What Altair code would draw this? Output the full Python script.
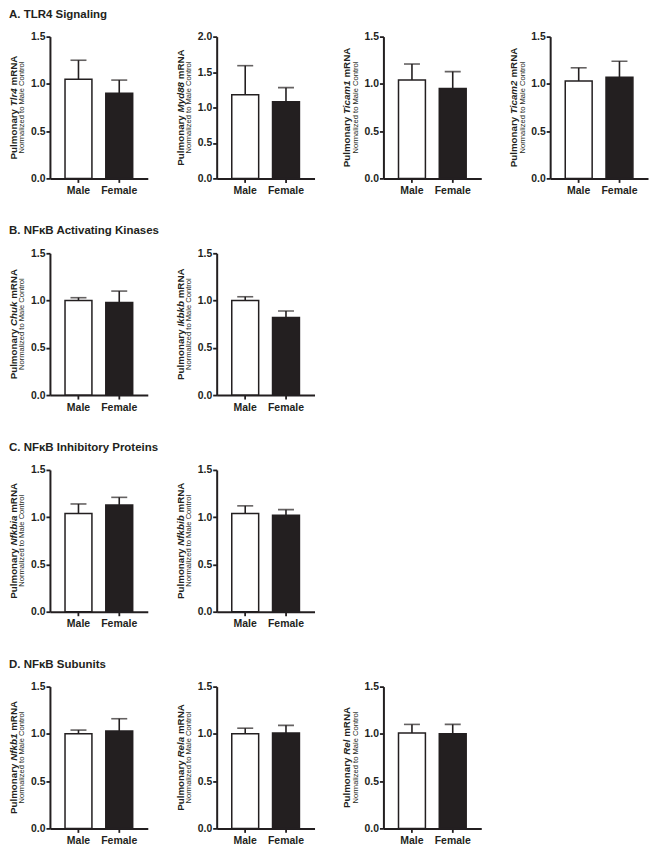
import altair as alt
import pandas as pd

# ---------------- data ----------------
row_titles = ["A. TLR4 Signaling", "B. NFκB Activating Kinases",
              "C. NFκB Inhibitory Proteins", "D. NFκB Subunits"]
row_genes = [["Tlr4", "Myd88", "Ticam1", "Ticam2"],
             ["Chuk", "Ikbkb"],
             ["Nfkbia", "Nfkbib"],
             ["Nfkb1", "Rela", "Rel"]]
genes = ["Tlr4", "Myd88", "Ticam1", "Ticam2", "Chuk", "Ikbkb",
         "Nfkbia", "Nfkbib", "Nfkb1", "Rela", "Rel"]
groups = ["Male", "Female"]
male_mean = [1.05, 1.18, 1.04, 1.03, 1.00, 1.00, 1.04, 1.04, 1.00, 1.00, 1.01]
male_sem = [0.20, 0.41, 0.17, 0.14, 0.03, 0.04, 0.10, 0.08, 0.04, 0.06, 0.09]
female_mean = [0.90, 1.08, 0.95, 1.07, 0.98, 0.82, 1.13, 1.02, 1.03, 1.01, 1.00]
female_sem = [0.14, 0.20, 0.18, 0.17, 0.12, 0.07, 0.08, 0.06, 0.13, 0.08, 0.10]
y_max = [1.5, 2.0, 1.5, 1.5, 1.5, 1.5, 1.5, 1.5, 1.5, 1.5, 1.5]
y_title_prefix = "Pulmonary"
y_title_suffix = "mRNA"
y_subtitle = "Normalized to Male Control"

# ---------------- style ----------------
FONT = "Liberation Sans"
INK = "#231f20"
W, H = 98, 142
TITLE_FS = 9.8
# Arial/Liberation Sans Bold advance widths (per 1000 em) for title layout
BOLD_W = {" ": 278, "A": 722, "C": 722, "I": 278, "M": 833, "N": 722, "P": 667,
          "R": 722, "T": 611, "a": 556, "b": 611, "c": 556, "d": 611, "e": 556,
          "f": 333, "h": 611, "i": 278, "k": 556, "l": 278, "m": 889, "n": 611,
          "o": 611, "r": 389, "u": 611, "y": 556, "1": 556, "2": 556, "4": 556,
          "8": 556}


def tw(s, size):
    return sum(BOLD_W.get(c, 556) for c in s) * size / 1000.0


one = pd.DataFrame({"k": [0]})


def txt(text, x, y, size, weight="bold", style="normal", angle=270, align="left"):
    return alt.Chart(one).mark_text(
        text=text, angle=angle, align=align, baseline="middle", font=FONT,
        fontSize=size, fontWeight=weight, fontStyle=style, color=INK
    ).encode(x=alt.value(x), y=alt.value(y))


def panel(i, row_title=None):
    g = genes[i]
    df = pd.DataFrame({
        "group": groups,
        "mean": [male_mean[i], female_mean[i]],
        "upper": [male_mean[i] + male_sem[i], female_mean[i] + female_sem[i]],
    })
    ymax = y_max[i]
    ticks = [k * 0.5 for k in range(int(round(ymax / 0.5)) + 1)]
    xenc = alt.X("group:N", sort=groups,
                 scale=alt.Scale(domain=groups, paddingInner=0.34, paddingOuter=0.37),
                 axis=alt.Axis(title=None, labelAngle=0, labelAlign="center",
                               labelBaseline="top", labelFontSize=10.5,
                               labelPadding=3))
    yscale = alt.Scale(domain=[0, ymax], nice=False, zero=True)
    yaxis = alt.Axis(title=None, values=ticks, format=".1f", grid=False,
                     labelFontSize=10.4, labelPadding=1)
    base = alt.Chart(df)
    err = base.mark_rule(color=INK, strokeWidth=1.6).encode(
        x=xenc, y=alt.Y("mean:Q", scale=yscale, axis=yaxis), y2="upper:Q")
    cap = base.mark_tick(color=INK, thickness=1.6, size=16).encode(
        x=xenc, y=alt.Y("upper:Q", scale=yscale, axis=yaxis))
    bars = base.mark_bar(stroke=INK, strokeWidth=1.5).encode(
        x=xenc,
        y=alt.Y("mean:Q", scale=yscale, axis=yaxis),
        fill=alt.Fill("group:N", scale=alt.Scale(domain=groups, range=["#ffffff", INK]),
                      legend=None),
    )
    # y-axis title: "Pulmonary <i>gene</i> mRNA" + small subtitle
    w_p = tw(y_title_prefix + " ", TITLE_FS)
    w_g = tw(g, TITLE_FS)
    w_s = tw(" ", TITLE_FS)
    total = w_p + w_g + tw(" " + y_title_suffix, TITLE_FS)
    y0 = H / 2 + total / 2
    layers = [err, cap, bars,
              txt(y_title_prefix, -36, y0, TITLE_FS),
              txt(g, -36, y0 - w_p, TITLE_FS, style="italic"),
              txt(y_title_suffix, -36, y0 - w_p - w_g - w_s, TITLE_FS),
              txt(y_subtitle, -27.5, H / 2, 7.6, weight="normal", align="center")]
    if row_title:
        layers.append(txt(row_title, -41, -22, 11.5, angle=0))
    return alt.layer(*layers).properties(width=W, height=H)


def blank():
    return alt.Chart(one).mark_point(opacity=0).encode(
        x=alt.X("k:Q", axis=None), y=alt.Y("k:Q", axis=None)
    ).properties(width=W, height=H)


cells = []
for r, glist in enumerate(row_genes):
    for c in range(4):
        if c < len(glist):
            idx = genes.index(glist[c])
            cells.append(panel(idx, row_titles[r] if c == 0 else None))
        else:
            cells.append(blank())

chart = alt.concat(
    *cells, columns=4, spacing={"row": 75, "column": 69}, bounds="flush"
).configure_view(stroke=None).configure_axis(
    domainColor=INK, domainWidth=2, tickColor=INK, tickWidth=1.8, tickSize=4,
    labelColor=INK, labelFont=FONT, labelFontWeight="bold"
).properties(padding={"left": 0, "top": 0, "right": 4, "bottom": 4})

chart.save("out.html", embed_options={"renderer": "svg", "actions": False})
